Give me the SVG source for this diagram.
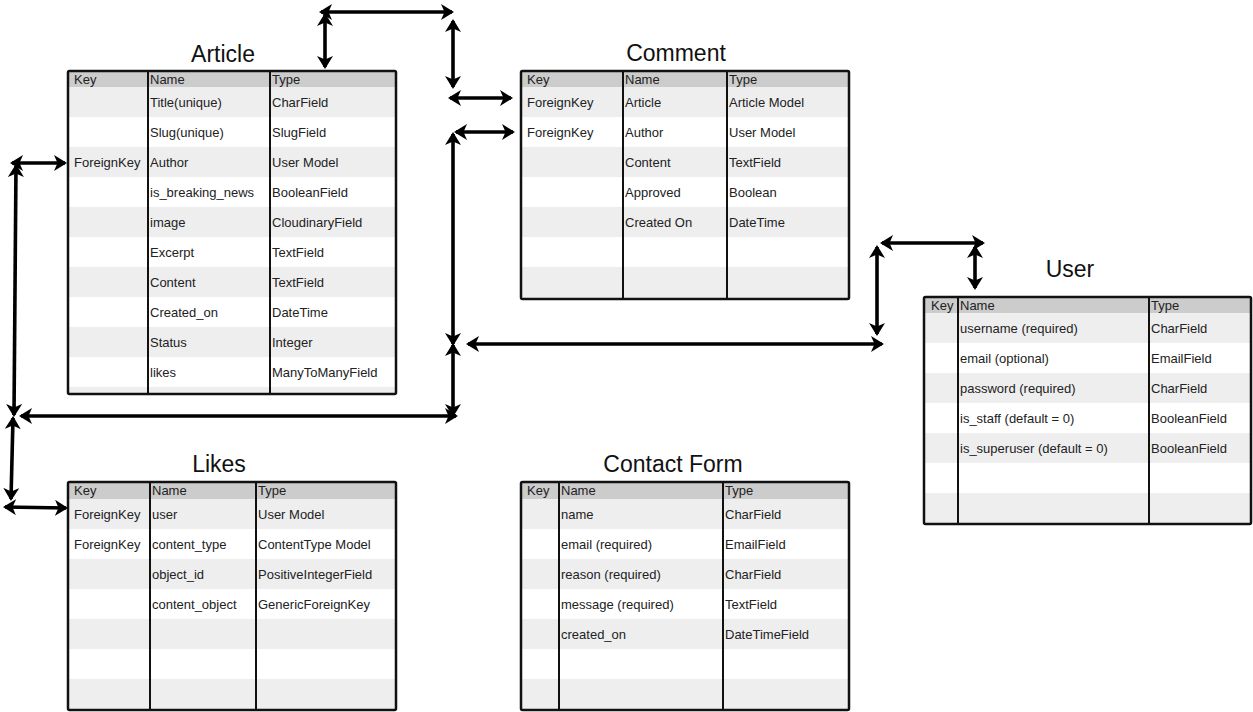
<svg xmlns="http://www.w3.org/2000/svg" width="1253" height="712" viewBox="0 0 1253 712">
<defs>
<style>
.tbl{fill:#eeeeee;}
.hdr{fill:#cccccc;}
.wr{fill:#ffffff;}
.frame{fill:none;stroke:#111;stroke-width:2.5;}
.col{stroke:#111;stroke-width:2;}
.t{font-family:"Liberation Sans",Arial,sans-serif;font-size:13px;fill:#222;}
.title{font-family:"Liberation Sans",Arial,sans-serif;font-size:23px;fill:#111;text-anchor:middle;}
.c{fill:none;stroke:#000;stroke-width:3.6;marker-start:url(#ah);marker-end:url(#ah);}
</style>
<marker id="ah" viewBox="0 0 13 16" refX="11" refY="8" markerWidth="13" markerHeight="16" markerUnits="userSpaceOnUse" orient="auto-start-reverse">
<path d="M0,0 L13,8 L0,16 L3.5,8 z" fill="#000"/>
</marker>
</defs>
<rect width="1253" height="712" fill="#ffffff"/>

<g id="article">
<text class="title" x="223" y="62">Article</text>
<rect class="tbl" x="68" y="71" width="328" height="323"/>
<rect class="hdr" x="68" y="71" width="328" height="16"/>
<rect class="wr" x="68" y="117" width="328" height="30"/>
<rect class="wr" x="68" y="177" width="328" height="30"/>
<rect class="wr" x="68" y="237" width="328" height="30"/>
<rect class="wr" x="68" y="297" width="328" height="30"/>
<rect class="wr" x="68" y="357" width="328" height="30"/>
<line class="col" x1="148" y1="71" x2="148" y2="394"/>
<line class="col" x1="270" y1="71" x2="270" y2="394"/>
<rect class="frame" x="68" y="71" width="328" height="323" rx="1.5"/>
<text class="t" x="74" y="83.5">Key</text><text class="t" x="150" y="83.5">Name</text><text class="t" x="272" y="83.5">Type</text>
<text class="t" x="150" y="106.5">Title(unique)</text><text class="t" x="272" y="106.5">CharField</text>
<text class="t" x="150" y="136.5">Slug(unique)</text><text class="t" x="272" y="136.5">SlugField</text>
<text class="t" x="74" y="166.5">ForeignKey</text><text class="t" x="150" y="166.5">Author</text><text class="t" x="272" y="166.5">User Model</text>
<text class="t" x="150" y="196.5">is_breaking_news</text><text class="t" x="272" y="196.5">BooleanField</text>
<text class="t" x="150" y="226.5">image</text><text class="t" x="272" y="226.5">CloudinaryField</text>
<text class="t" x="150" y="256.5">Excerpt</text><text class="t" x="272" y="256.5">TextField</text>
<text class="t" x="150" y="286.5">Content</text><text class="t" x="272" y="286.5">TextField</text>
<text class="t" x="150" y="316.5">Created_on</text><text class="t" x="272" y="316.5">DateTime</text>
<text class="t" x="150" y="346.5">Status</text><text class="t" x="272" y="346.5">Integer</text>
<text class="t" x="150" y="376.5">likes</text><text class="t" x="272" y="376.5">ManyToManyField</text>
</g>

<g id="comment">
<text class="title" x="676" y="61">Comment</text>
<rect class="tbl" x="521" y="71" width="328" height="228"/>
<rect class="hdr" x="521" y="71" width="328" height="16"/>
<rect class="wr" x="521" y="117" width="328" height="30"/>
<rect class="wr" x="521" y="177" width="328" height="30"/>
<rect class="wr" x="521" y="237" width="328" height="30"/>
<line class="col" x1="623" y1="71" x2="623" y2="299"/>
<line class="col" x1="727" y1="71" x2="727" y2="299"/>
<rect class="frame" x="521" y="71" width="328" height="228" rx="1.5"/>
<text class="t" x="527" y="83.5">Key</text><text class="t" x="625" y="83.5">Name</text><text class="t" x="729" y="83.5">Type</text>
<text class="t" x="527" y="106.5">ForeignKey</text><text class="t" x="625" y="106.5">Article</text><text class="t" x="729" y="106.5">Article Model</text>
<text class="t" x="527" y="136.5">ForeignKey</text><text class="t" x="625" y="136.5">Author</text><text class="t" x="729" y="136.5">User Model</text>
<text class="t" x="625" y="166.5">Content</text><text class="t" x="729" y="166.5">TextField</text>
<text class="t" x="625" y="196.5">Approved</text><text class="t" x="729" y="196.5">Boolean</text>
<text class="t" x="625" y="226.5">Created On</text><text class="t" x="729" y="226.5">DateTime</text>
</g>

<g id="user">
<text class="title" x="1070" y="277">User</text>
<rect class="tbl" x="924" y="297" width="327" height="227"/>
<rect class="hdr" x="924" y="297" width="327" height="16"/>
<rect class="wr" x="924" y="343" width="327" height="30"/>
<rect class="wr" x="924" y="403" width="327" height="30"/>
<rect class="wr" x="924" y="463" width="327" height="30"/>
<line class="col" x1="958" y1="297" x2="958" y2="524"/>
<line class="col" x1="1149" y1="297" x2="1149" y2="524"/>
<rect class="frame" x="924" y="297" width="327" height="227" rx="1.5"/>
<text class="t" x="931" y="309.5">Key</text><text class="t" x="960" y="309.5">Name</text><text class="t" x="1151" y="309.5">Type</text>
<text class="t" x="960" y="332.5">username (required)</text><text class="t" x="1151" y="332.5">CharField</text>
<text class="t" x="960" y="362.5">email (optional)</text><text class="t" x="1151" y="362.5">EmailField</text>
<text class="t" x="960" y="392.5">password (required)</text><text class="t" x="1151" y="392.5">CharField</text>
<text class="t" x="960" y="422.5">is_staff (default = 0)</text><text class="t" x="1151" y="422.5">BooleanField</text>
<text class="t" x="960" y="452.5">is_superuser (default = 0)</text><text class="t" x="1151" y="452.5">BooleanField</text>
</g>

<g id="likes">
<text class="title" x="219" y="472">Likes</text>
<rect class="tbl" x="68" y="482" width="328" height="228"/>
<rect class="hdr" x="68" y="482" width="328" height="17"/>
<rect class="wr" x="68" y="529" width="328" height="30"/>
<rect class="wr" x="68" y="589" width="328" height="30"/>
<rect class="wr" x="68" y="649" width="328" height="30"/>
<line class="col" x1="150" y1="482" x2="150" y2="710"/>
<line class="col" x1="256" y1="482" x2="256" y2="710"/>
<rect class="frame" x="68" y="482" width="328" height="228" rx="1.5"/>
<text class="t" x="74" y="495">Key</text><text class="t" x="152" y="495">Name</text><text class="t" x="258" y="495">Type</text>
<text class="t" x="74" y="518.5">ForeignKey</text><text class="t" x="152" y="518.5">user</text><text class="t" x="258" y="518.5">User Model</text>
<text class="t" x="74" y="548.5">ForeignKey</text><text class="t" x="152" y="548.5">content_type</text><text class="t" x="258" y="548.5">ContentType Model</text>
<text class="t" x="152" y="578.5">object_id</text><text class="t" x="258" y="578.5">PositiveIntegerField</text>
<text class="t" x="152" y="608.5">content_object</text><text class="t" x="258" y="608.5">GenericForeignKey</text>
</g>

<g id="contact-form">
<text class="title" x="673" y="472">Contact Form</text>
<rect class="tbl" x="521" y="482" width="328" height="228"/>
<rect class="hdr" x="521" y="482" width="328" height="17"/>
<rect class="wr" x="521" y="529" width="328" height="30"/>
<rect class="wr" x="521" y="589" width="328" height="30"/>
<rect class="wr" x="521" y="649" width="328" height="30"/>
<line class="col" x1="559" y1="482" x2="559" y2="710"/>
<line class="col" x1="723" y1="482" x2="723" y2="710"/>
<rect class="frame" x="521" y="482" width="328" height="228" rx="1.5"/>
<text class="t" x="527" y="495">Key</text><text class="t" x="561" y="495">Name</text><text class="t" x="725" y="495">Type</text>
<text class="t" x="561" y="518.5">name</text><text class="t" x="725" y="518.5">CharField</text>
<text class="t" x="561" y="548.5">email (required)</text><text class="t" x="725" y="548.5">EmailField</text>
<text class="t" x="561" y="578.5">reason (required)</text><text class="t" x="725" y="578.5">CharField</text>
<text class="t" x="561" y="608.5">message (required)</text><text class="t" x="725" y="608.5">TextField</text>
<text class="t" x="561" y="638.5">created_on</text><text class="t" x="725" y="638.5">DateTimeField</text>
</g>

<g id="connectors">
<line class="c" x1="321" y1="12" x2="452" y2="12"/>
<line class="c" x1="325" y1="15" x2="325" y2="67"/>
<line class="c" x1="453" y1="21" x2="453" y2="87"/>
<line class="c" x1="450" y1="98" x2="511" y2="98"/>
<line class="c" x1="456" y1="132" x2="513" y2="132"/>
<line class="c" x1="453" y1="134" x2="453" y2="344"/>
<line class="c" x1="453" y1="345" x2="453" y2="415"/>
<line class="c" x1="468" y1="344" x2="882" y2="344"/>
<line class="c" x1="21" y1="416" x2="456" y2="416"/>
<line class="c" x1="16" y1="166" x2="14" y2="415"/>
<line class="c" x1="12" y1="163" x2="65" y2="163"/>
<line class="c" x1="13" y1="418" x2="11" y2="499"/>
<line class="c" x1="5" y1="507" x2="66" y2="508"/>
<line class="c" x1="877" y1="247" x2="877" y2="334"/>
<line class="c" x1="882" y1="243" x2="983" y2="243"/>
<line class="c" x1="975" y1="247" x2="975" y2="288"/>
</g>
</svg>
